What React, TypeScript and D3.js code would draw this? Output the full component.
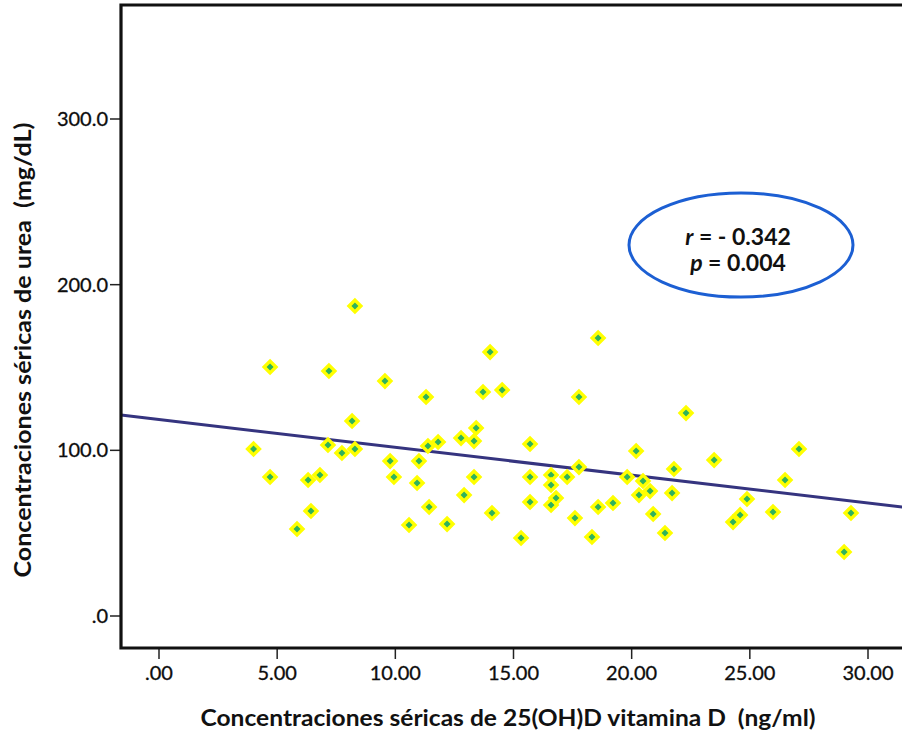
import React, { useEffect, useRef } from "react";
import * as d3 from "d3";

// 25(OH)D vitamin D (ng/ml) vs urea (mg/dL)
const vitD = [
    4.0, 4.7, 4.7, 5.84, 6.31, 6.43, 6.81, 7.15, 7.19, 7.74, 8.17, 8.29, 8.29, 9.56,
    9.78, 9.94, 10.58, 10.92, 11.0, 11.3, 11.38, 11.43, 11.81, 12.19, 12.78, 12.91,
    13.33, 13.33, 13.42, 13.71, 14.01, 14.09, 14.52, 15.32, 15.7, 15.7, 15.7, 16.59,
    16.59, 16.59, 16.8, 17.27, 17.6, 17.77, 17.77, 18.32, 18.58, 18.58, 19.21, 19.81,
    20.19, 20.31, 20.48, 20.78, 20.91, 21.41, 21.71, 21.79, 22.3, 23.49, 24.29, 24.59,
    24.88, 25.98, 26.49, 27.08, 28.99, 29.28,
];
const urea = [
    100.8, 150.3, 83.9, 52.5, 82.1, 63.4, 85.1, 103.2, 147.9, 98.4, 117.7, 187.1, 100.8,
    141.8, 93.5, 83.9, 54.9, 80.3, 93.5, 132.2, 102.6, 65.8, 105.0, 55.5, 107.4, 73.0,
    105.6, 83.9, 113.5, 135.2, 159.3, 62.2, 136.4, 47.1, 103.8, 83.9, 68.8, 85.1, 79.1,
    67.0, 71.2, 83.9, 59.1, 132.2, 89.9, 47.7, 167.8, 65.8, 68.2, 83.9, 99.6, 73.0,
    81.5, 75.4, 61.6, 50.1, 74.2, 88.7, 122.5, 94.1, 56.7, 61.0, 70.6, 62.8, 82.1,
    100.8, 38.6, 62.2,
];

const xTicks = [0, 5, 10, 15, 20, 25, 30];
const xTickLabels = [".00", "5.00", "10.00", "15.00", "20.00", "25.00", "30.00"];
const yTicks = [0, 100, 200, 300];
const yTickLabels = [".0", "100.0", "200.0", "300.0"];

// fit line as drawn in the figure
const fitIntercept = 118.6;
const fitSlope = -1.68;

const statR = "- 0.342";
const statP = "0.004";

const xTitle = "Concentraciones séricas de 25(OH)D vitamina D  (ng/ml)";
const yTitle = "Concentraciones séricas de urea  (mg/dL)";

const FONT = "Lato, 'Open Sans', sans-serif";

const App = () => {
    const svgRef = useRef<SVGSVGElement>(null);

    useEffect(() => {
        const width = 902;
        const height = 738;
        const frame = { left: 121, top: 5, right: 915, bottom: 648 };

        const x = d3.scaleLinear().domain([0, 30]).range([159, 868]);
        const y = d3.scaleLinear().domain([0, 300]).range([616, 119]);

        d3.select(svgRef.current).selectAll("*").remove();
        const svg = d3
            .select(svgRef.current)
            .attr("width", width)
            .attr("height", height);

        svg.append("rect")
            .attr("width", width)
            .attr("height", height)
            .attr("fill", "#fff");

        // y ticks
        const yAxis = svg.append("g");
        yTicks.forEach((t, i) => {
            yAxis.append("line")
                .attr("x1", frame.left - 11)
                .attr("x2", frame.left)
                .attr("y1", y(t))
                .attr("y2", y(t))
                .attr("stroke", "#222")
                .attr("stroke-width", 1.5);
            yAxis.append("text")
                .attr("x", frame.left - 13)
                .attr("y", y(t) + 7)
                .attr("text-anchor", "end")
                .style("font-family", FONT)
                .style("font-size", "20px")
                .style("fill", "#0d0d0d")
                .style("stroke", "#0d0d0d")
                .style("stroke-width", 0.3)
                .text(yTickLabels[i]);
        });

        // x ticks
        const xAxis = svg.append("g");
        xTicks.forEach((t, i) => {
            xAxis.append("line")
                .attr("x1", x(t))
                .attr("x2", x(t))
                .attr("y1", frame.bottom)
                .attr("y2", frame.bottom + 11)
                .attr("stroke", "#222")
                .attr("stroke-width", 1.5);
            xAxis.append("text")
                .attr("x", x(t))
                .attr("y", 680)
                .attr("text-anchor", "middle")
                .style("font-family", FONT)
                .style("font-size", "20px")
                .style("fill", "#0d0d0d")
                .style("stroke", "#0d0d0d")
                .style("stroke-width", 0.3)
                .text(xTickLabels[i]);
        });

        // regression line
        const x0 = x.invert(frame.left);
        const x1 = x.invert(frame.right);
        const line = d3
            .line<number>()
            .x((d) => x(d))
            .y((d) => y(fitIntercept + fitSlope * d));
        svg.append("path")
            .attr("d", line([x0, x1]))
            .attr("fill", "none")
            .attr("stroke", "#35347f")
            .attr("stroke-width", 3);

        // points
        const diamond = d3.symbol().type(d3.symbolSquare).size(70);
        svg.append("g")
            .selectAll("path")
            .data(vitD.map((v, i) => ({ v, u: urea[i] })))
            .enter()
            .append("path")
            .attr("d", diamond)
            .attr("transform", (d) => `translate(${x(d.v)},${y(d.u)}) rotate(45)`)
            .attr("fill", "#2fb35c")
            .attr("stroke", "#ffff00")
            .attr("stroke-width", 3.4);

        // frame
        svg.append("path")
            .attr(
                "d",
                `M${frame.right},${frame.top}H${frame.left}V${frame.bottom}H${frame.right}`
            )
            .attr("fill", "none")
            .attr("stroke", "#111")
            .attr("stroke-width", 3.2);

        // annotation ellipse
        const note = svg.append("g");
        note.append("ellipse")
            .attr("cx", 741)
            .attr("cy", 245)
            .attr("rx", 112)
            .attr("ry", 52)
            .attr("fill", "#fff")
            .attr("stroke", "#1c5fd3")
            .attr("stroke-width", 3);
        const stats = [
            { k: "r", v: statR, y: 245 },
            { k: "p", v: statP, y: 271 },
        ];
        stats.forEach((s) => {
            const t = note.append("text")
                .attr("x", 738)
                .attr("y", s.y)
                .attr("text-anchor", "middle")
                .style("font-family", FONT)
                .style("font-size", "23px")
                .style("font-weight", "bold")
                .style("fill", "#111");
            t.append("tspan").style("font-style", "italic").text(s.k);
            t.append("tspan").text(` = ${s.v}`);
        });

        // axis titles
        svg.append("text")
            .attr("x", 508)
            .attr("y", 726)
            .attr("text-anchor", "middle")
            .attr("textLength", 615)
            .attr("lengthAdjust", "spacingAndGlyphs")
            .style("font-family", FONT)
            .style("font-size", "22px")
            .style("font-weight", "bold")
            .style("white-space", "pre")
            .style("fill", "#111")
            .text(xTitle);

        svg.append("text")
            .attr("transform", `translate(31, 350) rotate(-90)`)
            .attr("text-anchor", "middle")
            .attr("textLength", 455)
            .attr("lengthAdjust", "spacingAndGlyphs")
            .style("font-family", FONT)
            .style("font-size", "22px")
            .style("font-weight", "bold")
            .style("white-space", "pre")
            .style("fill", "#111")
            .text(yTitle);
    }, []);

    return (
        <svg
            ref={svgRef}
            style={{ position: "absolute", left: 0, top: 0, display: "block" }}
        ></svg>
    );
};

export default App;
